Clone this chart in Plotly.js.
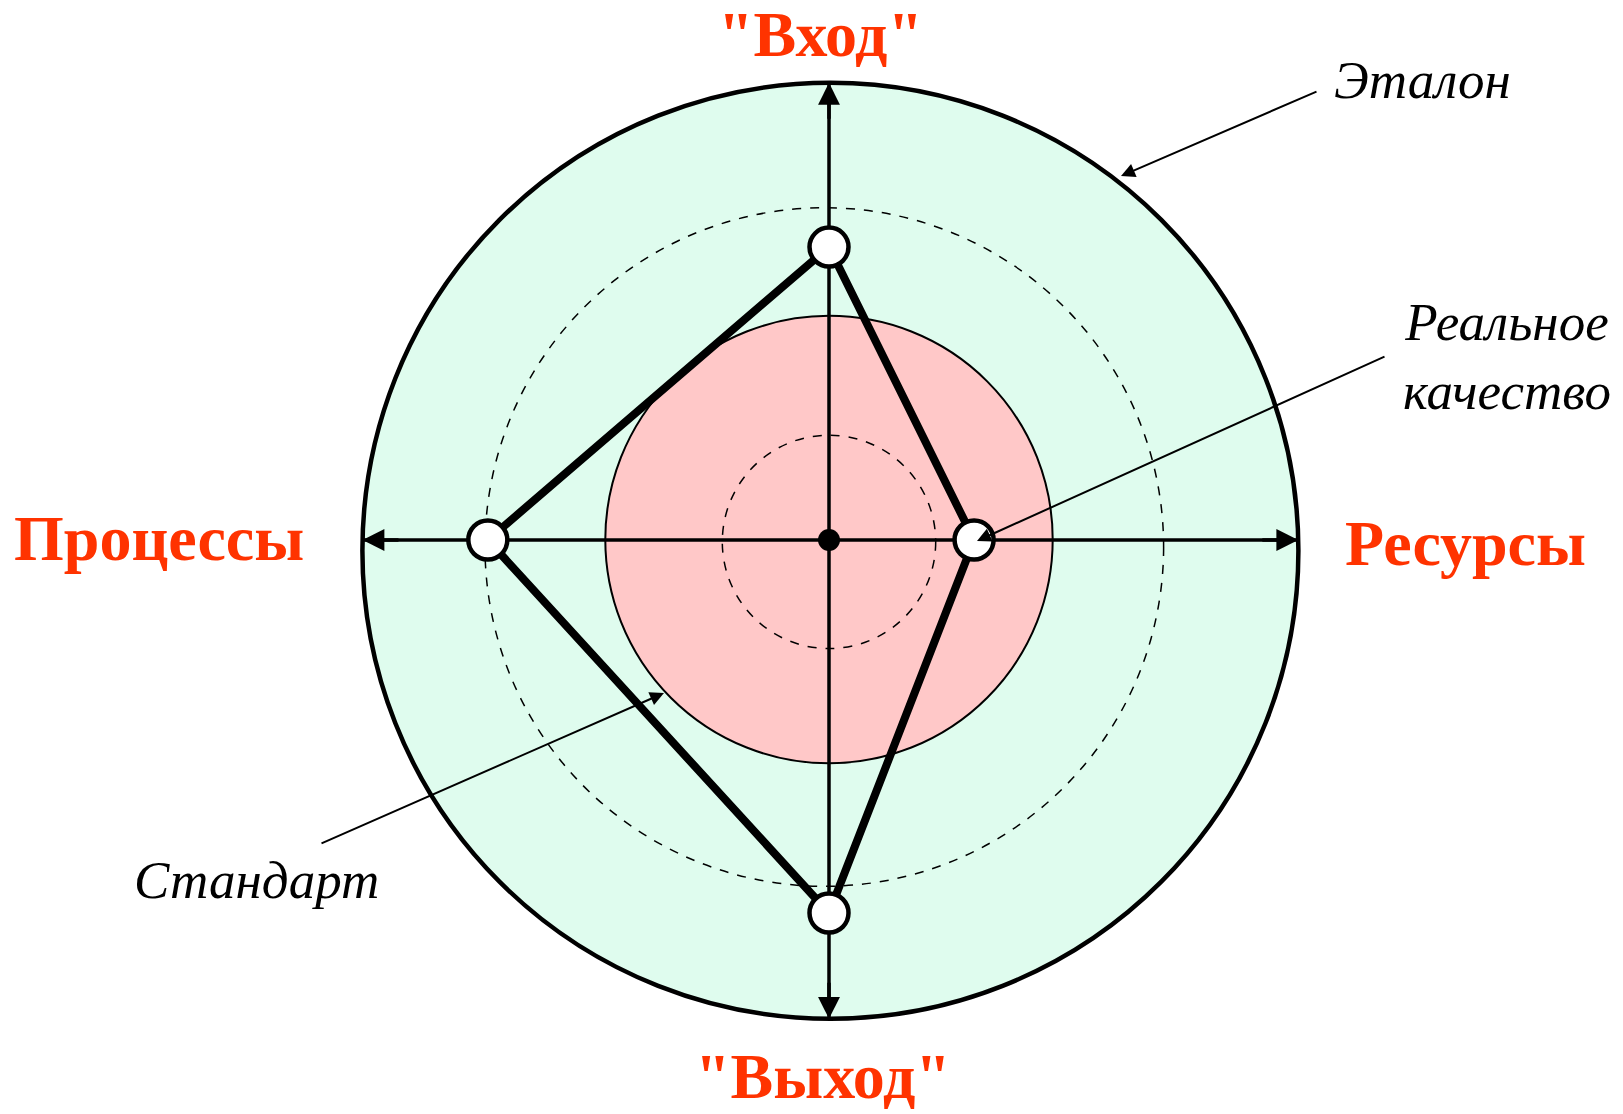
<!DOCTYPE html>
<html>
<head>
<meta charset="utf-8">
<script src="https://cdn.plot.ly/plotly-3.0.1.min.js"></script>
<style>html,body{margin:0;padding:0;background:#fff;}#chart{width:1623px;height:1114px;}</style>
</head>
<body>
<div id="chart"></div>
<script>
// ---- data ----
const axisNames = ['"Вход"', 'Ресурсы', '"Выход"', 'Процессы'];
const axisAngles = [90, 0, 270, 180];
const realQuality = [62.6, 31.0, 79.7, 72.9];   // values on each axis (etalon = 100)
const etalonRadius = 100;
const standardRadius = 47.8;
const dashedLevels = [22.8, 72.5];
const calloutLabels = ['Эталон', 'Реальное<br>качество', 'Стандарт'];

// ---- geometry helpers ----
const W = 1623, H = 1114, K = 4.68, CX = 829, CY = 540;
const rad = a => a * Math.PI / 180;
const etalonCenter = [0.3, -2.3];
const dashedCenters = [[0, -0.4], [-1, -1.5]];

const shapes = [];
shapes.push({type:'circle', xref:'x', yref:'y', layer:'below',
  x0: etalonCenter[0]-etalonRadius, x1: etalonCenter[0]+etalonRadius,
  y0: etalonCenter[1]-etalonRadius, y1: etalonCenter[1]+etalonRadius,
  fillcolor:'#DFFCEE', line:{color:'#000', width:4.5}});
shapes.push({type:'circle', xref:'x', yref:'y', layer:'below',
  x0: -standardRadius, x1: standardRadius, y0: -standardRadius+0.1, y1: standardRadius+0.1,
  fillcolor:'#FFC8C8', line:{color:'#000', width:2}});
dashedLevels.forEach((r, i) => {
  const c = dashedCenters[i];
  shapes.push({type:'circle', xref:'x', yref:'y', layer:'below',
    x0: c[0]-r, x1: c[0]+r, y0: c[1]-r, y1: c[1]+r,
    line:{color:'#000', width:1.5, dash:'dash'}});
});

// axis ends on the etalon circle
const axisEnd = axisAngles.map(a => {
  const dx = Math.cos(rad(a)), dy = Math.sin(rad(a));
  const b = -(dx*etalonCenter[0] + dy*etalonCenter[1]);
  const c = etalonCenter[0]**2 + etalonCenter[1]**2 - etalonRadius**2;
  const t = -b + Math.sqrt(b*b - c);
  return [t*dx, t*dy];
});

const traces = [];
traces.push({type:'scatter', mode:'lines', x:[axisEnd[3][0], axisEnd[1][0]], y:[0,0],
  line:{color:'#000', width:3.5}, hoverinfo:'skip', showlegend:false});
traces.push({type:'scatter', mode:'lines', x:[0,0], y:[axisEnd[2][1], axisEnd[0][1]],
  line:{color:'#000', width:3.5}, hoverinfo:'skip', showlegend:false});

// quality polygon
const px = realQuality.map((v,i) => Math.abs(Math.cos(rad(axisAngles[i])))<1e-9 ? 0 : v*Math.cos(rad(axisAngles[i])));
const py = realQuality.map((v,i) => Math.abs(Math.sin(rad(axisAngles[i])))<1e-9 ? 0 : v*Math.sin(rad(axisAngles[i])));
traces.push({type:'scatter', mode:'lines', x:px.concat([px[0]]), y:py.concat([py[0]]),
  line:{color:'#000', width:8}, hoverinfo:'skip', showlegend:false});
traces.push({type:'scatter', mode:'markers', x:px, y:py,
  marker:{size:39, color:'#fff', line:{color:'#000', width:4.5}}, hoverinfo:'skip', showlegend:false});
traces.push({type:'scatter', mode:'markers', x:[0], y:[0],
  marker:{size:22, color:'#000'}, hoverinfo:'skip', showlegend:false});

const serif = 'Liberation Serif';
const red = '#FF3300';
const annotations = [];
axisEnd.forEach((e, i) => {
  const a = rad(axisAngles[i]);
  annotations.push({x:e[0], y:e[1], xref:'x', yref:'y', axref:'x', ayref:'y',
    ax:e[0]-8*Math.cos(a), ay:e[1]-8*Math.sin(a), text:'', showarrow:true,
    arrowhead:2, arrowsize:1.25, arrowwidth:3.5, arrowcolor:'#000'});
});
const titlePos = [[820,35],[1465,543],[823,1076],[159,538]];
axisNames.forEach((t, i) => {
  annotations.push({text:'<b>'+t+'</b>', xref:'paper', yref:'paper',
    x: titlePos[i][0]/W, y: 1-titlePos[i][1]/H, xanchor:'center', yanchor:'middle',
    showarrow:false, font:{family:serif, size:64, color:red}});
});
const dataX = p => (p - CX)/K, dataY = p => (CY - p)/K;
const callTip = [[1121,176],[977,541],[664,693]];
const callTail = [[1318,91],[1386,356],[320,844]];
const callText = [[1422,80],[1507,356],[256,880]];
calloutLabels.forEach((t, i) => {
  annotations.push({x:dataX(callTip[i][0]), y:dataY(callTip[i][1]), xref:'x', yref:'y',
    ax: callTail[i][0]-callTip[i][0], ay: callTail[i][1]-callTip[i][1],
    text:'', showarrow:true, arrowhead:2, arrowsize:1.4, arrowwidth:2, arrowcolor:'#000'});
  annotations.push({text:'<i>'+t+'</i>', xref:'paper', yref:'paper',
    x: callText[i][0]/W, y: 1-callText[i][1]/H, xanchor:'center', yanchor:'middle',
    showarrow:false, align:'center', font:{family:serif, size:53, color:'#000'}});
});

const layout = {
  width: W, height: H, margin:{l:0,r:0,t:0,b:0},
  paper_bgcolor:'#fff', plot_bgcolor:'rgba(0,0,0,0)',
  font:{family:serif},
  xaxis:{range:[-CX/K, (W-CX)/K], visible:false, showgrid:false, zeroline:false, fixedrange:true},
  yaxis:{range:[-(H-CY)/K, CY/K], visible:false, showgrid:false, zeroline:false, fixedrange:true},
  shapes, annotations, showlegend:false
};
Plotly.newPlot('chart', traces, layout, {displayModeBar:false, staticPlot:true});
</script>
</body>
</html>
